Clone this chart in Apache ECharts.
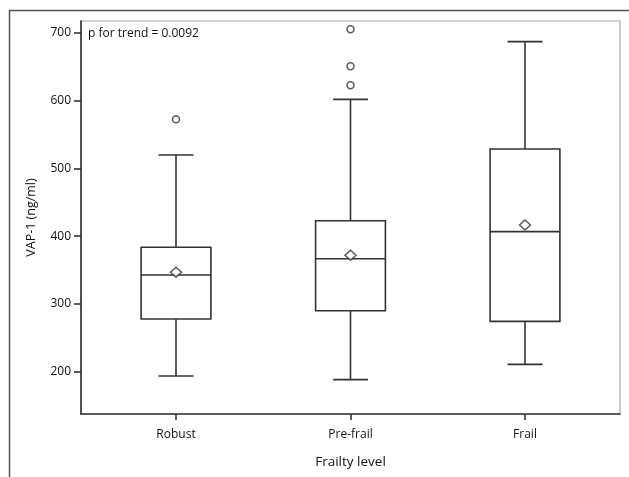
<!DOCTYPE html>
<html><head><meta charset="utf-8">
<script src="https://cdn.jsdelivr.net/npm/echarts@6/dist/echarts.min.js"></script>
<style>html,body{margin:0;padding:0;background:#fff}#c{width:629px;height:477px}</style>
</head><body><div id="c"></div>
<script>
const categories = ['Robust', 'Pre-frail', 'Frail'];
const whiskerLow = [193.6, 188.2, 210.8];
const q1 = [277.7, 290.0, 274.3];
const median = [342.7, 366.8, 406.7];
const q3 = [383.6, 422.9, 528.7];
const whiskerHigh = [519.9, 602.0, 687.2];
const means = [346.7, 371.8, 416.5];
const outlierGroup = [0, 1, 1, 1];
const outlierValue = [572.6, 705.4, 650.8, 622.8];
const yTicks = [200, 300, 400, 500, 600, 700];
const annotation = 'p for trend = 0.0092';

const FONT = 'Open Sans';
const INK = '#333';
const TXT = '#111';
const LW = 1.6;

const boxData = categories.map((c, i) => [i, whiskerLow[i], q1[i], median[i], q3[i], whiskerHigh[i]]);
const meanData = means.map((v, i) => [i, v]);
const outlierData = outlierGroup.map((g, k) => [g, outlierValue[k]]);

const chart = echarts.init(document.getElementById('c'), null, {renderer: 'canvas'});
const Y_MIN = 137.5, Y_MAX = 717.7;

chart.setOption({
  animation: false,
  backgroundColor: '#fff',
  textStyle: {fontFamily: FONT},
  grid: [
    {left: 81, top: 21, width: 539, height: 393, show: true, borderColor: '#aaa', borderWidth: 1.2, backgroundColor: 'transparent'},
    {left: 81, top: 33, width: 539, height: 338.7},
    {left: 88.75, top: 21, width: 523.5, height: 393}
  ],
  xAxis: [
    {gridIndex: 0, type: 'value', min: 0, max: 1,
     axisLine: {show: true, onZero: false, lineStyle: {color: INK, width: LW}},
     axisTick: {show: false}, axisLabel: {show: false}, splitLine: {show: false}},
    {gridIndex: 1, type: 'value', min: 0, max: 1, show: false},
    {gridIndex: 2, type: 'category', data: categories,
     axisLine: {show: false},
     axisTick: {show: true, alignWithLabel: true, length: 6, lineStyle: {color: INK, width: LW}},
     axisLabel: {fontSize: 12, color: TXT, margin: 15, fontFamily: FONT},
     name: 'Frailty level', nameLocation: 'middle', nameGap: 41,
     nameTextStyle: {fontSize: 13.5, color: TXT, fontFamily: FONT},
     splitLine: {show: false}}
  ],
  yAxis: [
    {gridIndex: 0, type: 'value', min: Y_MIN, max: Y_MAX,
     axisLine: {show: true, onZero: false, lineStyle: {color: INK, width: LW}},
     axisTick: {show: false}, axisLabel: {show: false}, splitLine: {show: false},
     name: 'VAP-1 (ng/ml)', nameLocation: 'middle', nameGap: 43,
     nameTextStyle: {fontSize: 12.5, color: TXT, fontFamily: FONT}},
    {gridIndex: 1, type: 'value', min: yTicks[0], max: yTicks[yTicks.length - 1], interval: 100,
     axisLine: {show: false},
     axisTick: {show: true, length: 7, lineStyle: {color: INK, width: LW}},
     axisLabel: {fontSize: 12, color: TXT, margin: 10, fontFamily: FONT},
     splitLine: {show: false}},
    {gridIndex: 2, type: 'value', min: Y_MIN, max: Y_MAX, show: false}
  ],
  graphic: [
    {type: 'polyline', silent: true, shape: {points: [[9.5, 477], [9.5, 10.5], [629, 10.5]]},
     style: {stroke: '#555', lineWidth: 1.5, fill: null}},
    {type: 'text', left: 88, top: 28, silent: true,
     style: {text: annotation, fontSize: 12, fill: TXT, fontFamily: FONT}}
  ],
  series: [
    {type: 'custom', xAxisIndex: 2, yAxisIndex: 2, data: boxData,
     encode: {x: 0, y: [1, 2, 3, 4, 5]},
     renderItem: function (params, api) {
       const i = api.value(0);
       const band = api.size([1, 0])[0];
       const bw = band * 0.4, cw = band * 0.2;
       const x = api.coord([i, api.value(3)])[0];
       const yLo = api.coord([i, api.value(1)])[1];
       const yQ1 = api.coord([i, api.value(2)])[1];
       const yMed = api.coord([i, api.value(3)])[1];
       const yQ3 = api.coord([i, api.value(4)])[1];
       const yHi = api.coord([i, api.value(5)])[1];
       const st = {stroke: INK, lineWidth: LW, fill: null};
       return {type: 'group', children: [
         {type: 'rect', shape: {x: x - bw / 2, y: yQ3, width: bw, height: yQ1 - yQ3}, style: {stroke: INK, lineWidth: LW, fill: '#fff'}},
         {type: 'line', shape: {x1: x - bw / 2, y1: yMed, x2: x + bw / 2, y2: yMed}, style: st},
         {type: 'line', shape: {x1: x, y1: yQ3, x2: x, y2: yHi}, style: st},
         {type: 'line', shape: {x1: x, y1: yQ1, x2: x, y2: yLo}, style: st},
         {type: 'line', shape: {x1: x - cw / 2, y1: yHi, x2: x + cw / 2, y2: yHi}, style: st},
         {type: 'line', shape: {x1: x - cw / 2, y1: yLo, x2: x + cw / 2, y2: yLo}, style: st}
       ]};
     }},
    {type: 'scatter', xAxisIndex: 2, yAxisIndex: 2, data: meanData, z: 5,
     symbol: 'diamond', symbolSize: [11, 10],
     itemStyle: {color: '#fff', borderColor: INK, borderWidth: 1.5}},
    {type: 'scatter', xAxisIndex: 2, yAxisIndex: 2, data: outlierData, z: 5,
     symbol: 'circle', symbolSize: 7,
     itemStyle: {color: '#fff', borderColor: INK, borderWidth: 1.5}}
  ]
});
</script></body></html>
